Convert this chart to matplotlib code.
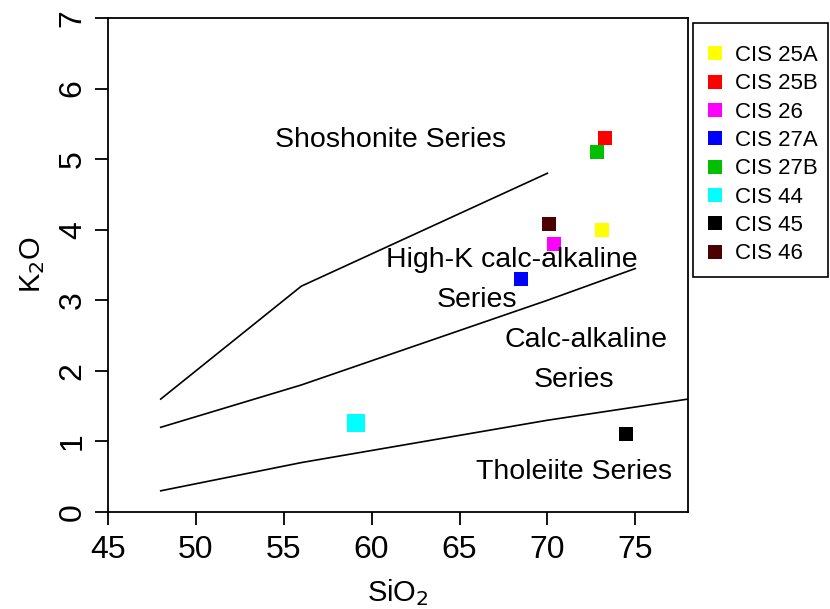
import matplotlib
matplotlib.use("Agg")
import matplotlib.pyplot as plt
from matplotlib.patches import Rectangle

plt.rcParams['font.family'] = ['Liberation Sans', 'DejaVu Sans']

# sample compositions (SiO2, K2O)
samples = ["CIS 25A", "CIS 25B", "CIS 26", "CIS 27A", "CIS 27B", "CIS 44", "CIS 45", "CIS 46"]
sio2 = [73.1, 73.3, 70.4, 68.5, 72.8, 59.1, 74.5, 70.1]
k2o = [4.0, 5.3, 3.8, 3.3, 5.1, 1.26, 1.1, 4.08]
colors = ["#ffff00", "#ff0000", "#ff00ff", "#0000ff", "#00c000", "#00ffff", "#000000", "#4d0000"]
marker_sizes = [10, 10, 10, 10, 10, 12.5, 10, 10]

# series boundary lines
shosh_x = [48, 56, 70]
shosh_y = [1.6, 3.2, 4.8]
highk_x = [48, 52, 56, 63, 70, 75]
highk_y = [1.2, 1.5, 1.8, 2.4, 3.0, 3.45]
thol_x = [48, 52, 56, 63, 70, 78]
thol_y = [0.3, 0.5, 0.7, 1.0, 1.3, 1.6]

fig = plt.figure(figsize=(8.3, 6.09), dpi=100)
ax = fig.add_axes([0.1301, 0.1593, 0.6988, 0.8111])

for xs, ys in [(shosh_x, shosh_y), (highk_x, highk_y), (thol_x, thol_y)]:
    ax.plot(xs, ys, color='black', lw=1.2)

for name, x, y, c, s in zip(samples, sio2, k2o, colors, marker_sizes):
    ax.plot(x, y, 's', color=c, markersize=s, markeredgewidth=0, label=name)

fs = 20.5
ax.text(61.1, 5.27, "Shoshonite Series", fontsize=fs, ha='center', va='center')
ax.text(68.0, 3.57, "High-K calc-alkaline", fontsize=fs, ha='center', va='center')
ax.text(66.0, 3.0, "Series", fontsize=fs, ha='center', va='center')
ax.text(72.2, 2.44, "Calc-alkaline", fontsize=fs, ha='center', va='center')
ax.text(71.5, 1.87, "Series", fontsize=fs, ha='center', va='center')
ax.text(71.5, 0.57, "Tholeiite Series", fontsize=fs, ha='center', va='center')

ax.set_xlim(45, 78)
ax.set_ylim(0, 7)
ax.set_xticks([45, 50, 55, 60, 65, 70, 75])
ax.set_yticks(range(0, 8))
ax.tick_params(direction='out', length=9.5, width=1.3, labelsize=23)
ax.tick_params(axis='x', pad=7)
ax.tick_params(axis='y', labelrotation=90, pad=5)
for lab in ax.get_yticklabels():
    lab.set_va('center')
for sp in ax.spines.values():
    sp.set_linewidth(1.3)

ax.set_xlabel("SiO$_2$", fontsize=21, labelpad=9)
ax.set_ylabel("K$_2$O", fontsize=21, labelpad=8)

# legend outside the axes, with its own box
W, H = 830, 609
fig.patches.append(Rectangle((693 / W, 1 - 277 / H), 135 / W, 254 / H,
                             transform=fig.transFigure, fill=False,
                             edgecolor='black', lw=1.2))
leg = ax.legend(loc='upper left', bbox_to_anchor=(707 / W, 1 - 45 / H),
                bbox_transform=fig.transFigure, fontsize=16, frameon=False,
                handlelength=0.7, handletextpad=0.56, labelspacing=0.33,
                borderpad=0, borderaxespad=0)
for h in leg.legend_handles:
    h.set_markersize(9.5)

fig.savefig("out.png", dpi=100)
